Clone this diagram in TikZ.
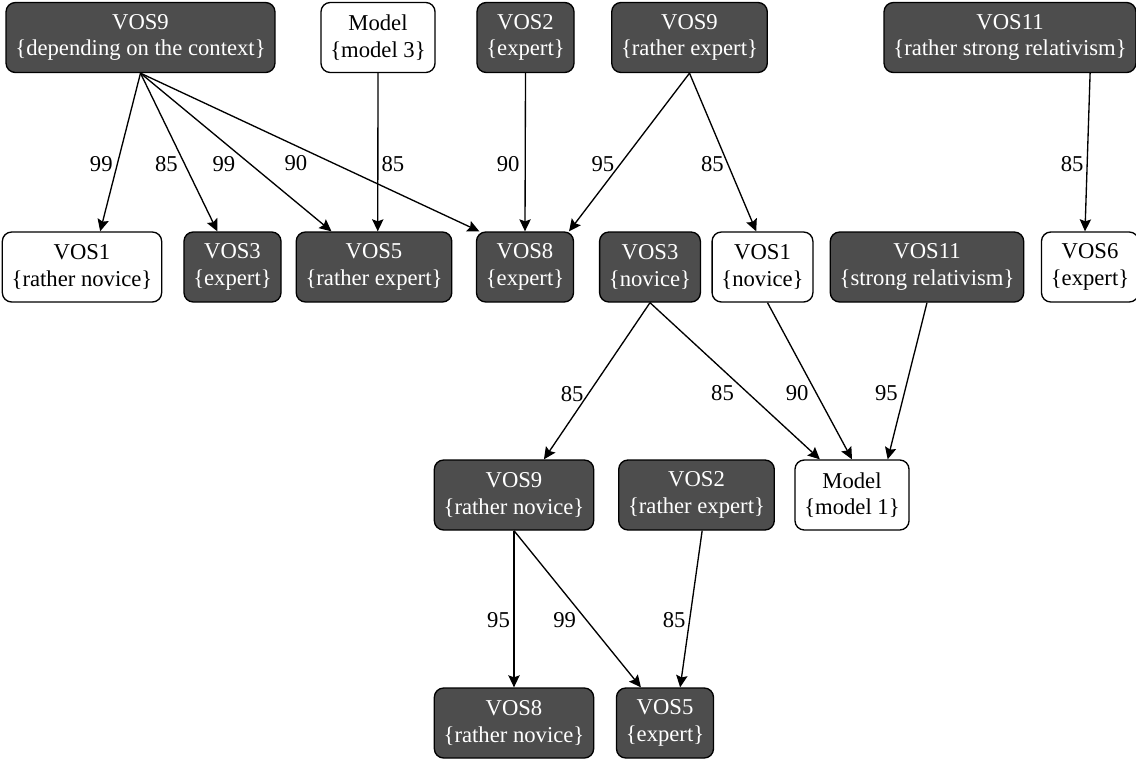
\documentclass[tikz,border=0pt]{standalone}
\usepackage{fontspec}
\setmainfont{Liberation Serif}
\usetikzlibrary{arrows.meta}
\definecolor{vosgray}{HTML}{4D4D4D}

\begin{document}
\begin{tikzpicture}[x=0.75pt,y=-0.75pt,
  box/.style={draw, line width=1pt, rounded corners=7pt, align=center,
    minimum height=52.5pt, inner xsep=7pt, font=\rmfamily\fontsize{17}{20}\selectfont},
  dark/.style={box, fill=vosgray, text=white},
  light/.style={box, fill=white},
  link/.style={line width=1pt, -{Stealth[length=9pt,width=8.5pt,inset=1.5pt]}},
  lbl/.style={inner sep=0pt, font=\rmfamily\fontsize{17}{20}\selectfont}]
  \useasboundingbox (0,0) rectangle (1136,758);

  \node[dark]  (A) at (140.5,37.5) {VOS9\\\{depending on the context\}};
  \node[light] (B) at (378,37.5)   {Model\\\{model 3\}};
  \node[dark]  (C) at (525.5,37.5) {VOS2\\\{expert\}};
  \node[dark]  (D) at (689.5,37.5) {VOS9\\\{rather expert\}};
  \node[dark]  (E) at (1010,37.5)  {VOS11\\\{rather strong relativism\}};

  \node[light] (F) at (82,267)     {VOS1\\\{rather novice\}};
  \node[dark]  (G) at (232.5,267)  {VOS3\\\{expert\}};
  \node[dark]  (H) at (374,267)    {VOS5\\\{rather expert\}};
  \node[dark]  (I) at (525,267)    {VOS8\\\{expert\}};
  \node[dark]  (J) at (650,267)    {VOS3\\\{novice\}};
  \node[light] (K) at (762.5,267)  {VOS1\\\{novice\}};
  \node[dark]  (L) at (927,267)    {VOS11\\\{strong relativism\}};
  \node[light] (M) at (1090,267)   {VOS6\\\{expert\}};

  \node[dark]  (N) at (514,495)    {VOS9\\\{rather novice\}};
  \node[dark]  (O) at (696.5,495)  {VOS2\\\{rather expert\}};
  \node[light] (P) at (852,495)    {Model\\\{model 1\}};

  \node[dark]  (Q) at (514,723)    {VOS8\\\{rather novice\}};
  \node[dark]  (R) at (665,723)    {VOS5\\\{expert\}};

  \draw[link] (A.south) -- (F.63)  node[lbl, pos=.575, xshift=-12pt] {99};
  \draw[link] (A.south) -- (G.113) node[lbl, pos=.575, xshift=-13.7pt] {85};
  \draw[link] (A.south) -- (H.140) node[lbl, pos=.575, xshift=-19.8pt] {99};
  \draw[link] (A.south) -- (I.142) node[lbl, pos=.568, xshift=-27.8pt] {90};
  \draw[link] (B.south) -- (H.84)  node[lbl, pos=.575, xshift=11.3pt] {85};
  \draw[link] (C.south) -- (I.north) node[lbl, pos=.575, xshift=-12.8pt] {90};
  \draw[link] (D.south) -- (I.39)  node[lbl, pos=.575, xshift=-13pt] {95};
  \draw[link] (D.south) -- (K.100) node[lbl, pos=.575, xshift=-11.6pt] {85};
  \draw[link] (E.-24.7) -- (M.98)  node[lbl, pos=.575, xshift=-11.3pt] {85};

  \draw[link] (J.south) -- (N.50)  node[lbl, pos=.583, xshift=-12pt] {85};
  \draw[link] (J.south) -- (P.132) node[lbl, pos=.576, xshift=-19pt] {85};
  \draw[link] (K.-82) -- (P.north) node[lbl, pos=.576, xshift=-14.3pt] {90};
  \draw[link] (L.south) -- (P.45)  node[lbl, pos=.576, xshift=-13.5pt] {95};

  \draw[link] (N.south) -- (Q.north) node[lbl, pos=.57, xshift=-11.6pt] {95};
  \draw[link] (N.south) -- (R.124) node[lbl, pos=.57, xshift=-16.3pt] {99};
  \draw[link] (O.-81) -- (R.67)    node[lbl, pos=.57, xshift=-11.6pt] {85};
\end{tikzpicture}
\end{document}
